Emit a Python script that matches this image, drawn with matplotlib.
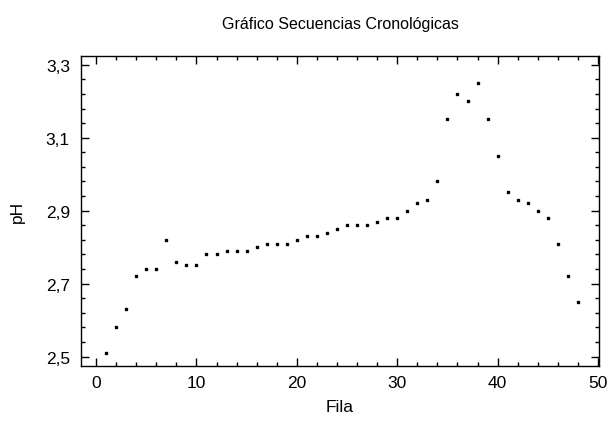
import matplotlib.pyplot as plt
from matplotlib.ticker import MultipleLocator, FuncFormatter

# datos
fila = list(range(1, 49))
ph = [2.51, 2.58, 2.63, 2.72, 2.74, 2.74, 2.82, 2.76, 2.75, 2.75,
      2.78, 2.78, 2.79, 2.79, 2.79, 2.80, 2.81, 2.81, 2.81, 2.82,
      2.83, 2.83, 2.84, 2.85, 2.86, 2.86, 2.86, 2.87, 2.88, 2.88,
      2.90, 2.92, 2.93, 2.98, 3.15, 3.22, 3.20, 3.25, 3.15, 3.05,
      2.95, 2.93, 2.92, 2.90, 2.88, 2.81, 2.72, 2.65]

plt.rcParams['font.family'] = ['Liberation Sans Narrow', 'Liberation Sans', 'DejaVu Sans']

fig = plt.figure(figsize=(6.09, 4.27), dpi=100)
ax = fig.add_axes([0.133, 0.1412, 0.8506, 0.7253])

ax.plot(fila, ph, linestyle='none', marker='s', markersize=1.9, color='black')

ax.set_xlim(-1.5, 50.1)
ax.set_ylim(2.475, 3.324)
ax.xaxis.set_major_locator(MultipleLocator(10))
ax.xaxis.set_minor_locator(MultipleLocator(2))
ax.yaxis.set_major_locator(MultipleLocator(0.2, offset=0.1))
ax.yaxis.set_minor_locator(MultipleLocator(0.04, offset=0.02))
ax.yaxis.set_major_formatter(FuncFormatter(lambda v, p: f"{v:.1f}".replace('.', ',')))

ax.tick_params(which='both', direction='in', top=True, right=True, width=1, labelsize=12.5)
ax.tick_params(which='major', length=6)
ax.tick_params(which='minor', length=3)
ax.tick_params(axis='x', pad=7)
ax.tick_params(axis='y', pad=8)
for s in ax.spines.values():
    s.set_linewidth(1)

ax.set_xlabel("Fila", fontsize=12.5, labelpad=6)
ax.set_ylabel("pH", fontsize=12.5, labelpad=15)
ax.set_title("Gráfico Secuencias Cronológicas", fontsize=11.5, pad=20)

fig.savefig("out.png", dpi=100)
